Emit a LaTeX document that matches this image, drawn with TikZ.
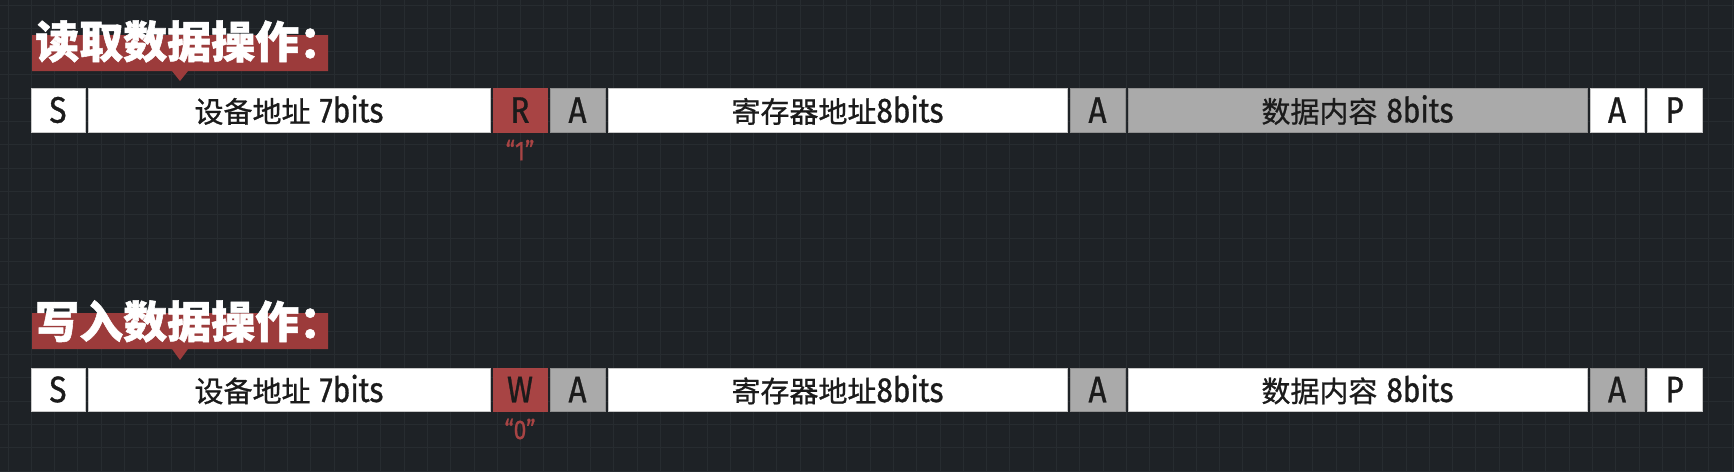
\documentclass[tikz,border=0pt]{standalone}
\usepackage{fontspec}
\newfontfamily\cjk[FakeBold=0.8]{Noto Sans CJK SC}
\newfontfamily\cjkt[BoldFeatures={FakeBold=1.2}]{Noto Sans CJK SC}
\newfontfamily\latf[FakeStretch=0.85, FakeBold=0.8]{Fira Sans}
\definecolor{bgc}{HTML}{1E2226}
\definecolor{gridc}{HTML}{272C30}
\definecolor{bannerc}{HTML}{9C3B3B}
\definecolor{rwc}{HTML}{A84444}
\definecolor{grayc}{HTML}{AAAAAA}
\definecolor{txtc}{HTML}{1B1B1B}
\definecolor{edgec}{HTML}{C8C8C8}
\tikzset{
  seg/.style={rectangle, draw=edgec, line width=0.8pt, inner sep=0pt, text=txtc, anchor=center},
  wseg/.style={seg, fill=white},
  gseg/.style={seg, fill=grayc, draw=grayc!85!black},
  rseg/.style={seg, fill=rwc, draw=rwc},
  banner/.style={fill=bannerc},
  title/.style={anchor=base west, inner sep=0pt, text=white, font=\cjkt\bfseries\fontsize{44}{48}\selectfont},
  letter/.style={font=\latf\fontsize{37}{40}\selectfont},
  quote/.style={inner sep=0pt, text=rwc, font=\latf\fontsize{27}{30}\selectfont}
}
\newcommand{\cj}[1]{{\cjk\fontsize{29}{32}\selectfont #1}}
\newcommand{\lt}[1]{{\latf\fontsize{35}{38}\selectfont #1}}
\begin{document}
\begin{tikzpicture}[x=1pt,y=-1pt]
\fill[bgc] (0,0) rectangle (1734,472);
\useasboundingbox (0,0) rectangle (1734,472);
\foreach \i in {0,...,74} {\draw[gridc, line width=1pt] (8+23.3*\i,0) -- (8+23.3*\i,472);}
\foreach \j in {0,...,20} {\draw[gridc, line width=1pt] (0,5+23.3*\j) -- (1734,5+23.3*\j);}

% ---------- read operation ----------
\fill[banner] (32,35) -- (328,35) -- (328,71) -- (188,71) -- (180,81) -- (172,71) -- (32,71) -- cycle;
\node[title] (t1) at (35,58) {读取数据操作：};

\node[wseg, minimum width=54pt, minimum height=44pt, letter] (s1) at (58,110) {S};
\node[wseg, minimum width=402pt, minimum height=44pt] (d1) at (289,110) {\cj{设备地址}\hspace{9pt}\lt{7bits}};
\node[rseg, minimum width=54pt, minimum height=44pt, letter] (r1) at (520,110) {R};
\node[gseg, minimum width=55pt, minimum height=44pt, letter] (a11) at (577.5,110) {A};
\node[wseg, minimum width=459pt, minimum height=44pt] (g1) at (837.5,110) {\cj{寄存器地址}\lt{8bits}};
\node[gseg, minimum width=55pt, minimum height=44pt, letter] (a12) at (1097.5,110) {A};
\node[gseg, minimum width=459pt, minimum height=44pt] (c1) at (1357.5,110) {\cj{数据内容}\hspace{9pt}\lt{8bits}};
\node[wseg, minimum width=54pt, minimum height=44pt, letter] (a13) at (1617,110) {A};
\node[wseg, minimum width=55pt, minimum height=44pt, letter] (p1) at (1674.5,110) {P};
\node[quote] (q1) at (520,150) {“1”};

% ---------- write operation ----------
\fill[banner] (32,313) -- (328,313) -- (328,349) -- (188,349) -- (180,360) -- (172,349) -- (32,349) -- cycle;
\node[title] (t2) at (35,338) {写入数据操作：};

\node[wseg, minimum width=54pt, minimum height=43pt, letter] (s2) at (58,389.5) {S};
\node[wseg, minimum width=402pt, minimum height=43pt] (d2) at (289,389.5) {\cj{设备地址}\hspace{9pt}\lt{7bits}};
\node[rseg, minimum width=54pt, minimum height=43pt, letter] (w2) at (520,389.5) {W};
\node[gseg, minimum width=55pt, minimum height=43pt, letter] (a21) at (577.5,389.5) {A};
\node[wseg, minimum width=459pt, minimum height=43pt] (g2) at (837.5,389.5) {\cj{寄存器地址}\lt{8bits}};
\node[gseg, minimum width=55pt, minimum height=43pt, letter] (a22) at (1097.5,389.5) {A};
\node[wseg, minimum width=459pt, minimum height=43pt] (c2) at (1357.5,389.5) {\cj{数据内容}\hspace{9pt}\lt{8bits}};
\node[gseg, minimum width=54pt, minimum height=43pt, letter] (a23) at (1617,389.5) {A};
\node[wseg, minimum width=55pt, minimum height=43pt, letter] (p2) at (1674.5,389.5) {P};
\node[quote] (q2) at (520,429) {“0”};
\end{tikzpicture}
\end{document}
